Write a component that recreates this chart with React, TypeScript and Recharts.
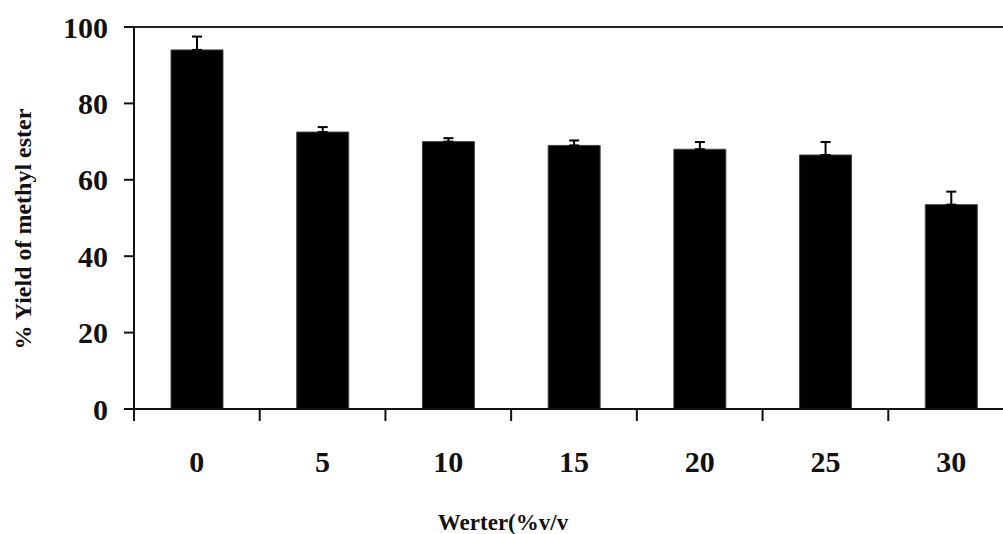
import React from 'react';
import { BarChart, Bar, XAxis, YAxis, ErrorBar, ReferenceLine } from 'recharts';

const categories = ['0', '5', '10', '15', '20', '25', '30'];
const yieldValues = [94, 72.5, 70, 69, 68, 66.5, 53.5];
const errorValues = [3.5, 1.3, 0.9, 1.3, 1.9, 3.4, 3.4];
const yTicks = [0, 20, 40, 60, 80, 100];

const data = categories.map((c, i) => ({
  water: c,
  value: yieldValues[i],
  err: [0, errorValues[i]],
}));

const FONT = '"Liberation Serif", "Times New Roman", serif';

const CategoryTick = (props: any) => {
  const { x, y, payload, width, visibleTicksCount } = props;
  const half =
    payload && typeof payload.offset === 'number' && payload.offset > 0
      ? payload.offset
      : width / (visibleTicksCount || categories.length) / 2;
  const isLast = payload.index === categories.length - 1;
  return (
    <g>
      <line x1={x - half} x2={x - half} y1={y} y2={y + 12} stroke="#111" strokeWidth={2} />
      {isLast && <line x1={x + half} x2={x + half} y1={y} y2={y + 12} stroke="#111" strokeWidth={2} />}
      <text x={x} y={y + 63} textAnchor="middle" fontFamily={FONT} fontWeight="bold" fontSize={30} fill="#111">
        {payload.value}
      </text>
    </g>
  );
};

export default function App() {
  return (
    <div style={{ position: 'absolute', left: 0, top: 0, width: 1003, height: 534, overflow: 'hidden', background: '#fff' }}>
      <BarChart
        width={1020}
        height={534}
        data={data}
        margin={{ top: 27, right: 6, bottom: 0, left: 0 }}
        barCategoryGap="30%"
      >
        <XAxis
          dataKey="water"
          height={125}
          axisLine={{ stroke: '#111', strokeWidth: 2 }}
          tickLine={false}
          tickSize={0}
          tickMargin={0}
          interval={0}
          tick={<CategoryTick />}
          label={{
            content: () => (
              <text x={503} y={530} textAnchor="middle" fontFamily={FONT} fontWeight="bold" fontSize={23} fill="#111">
                Werter(%v/v
              </text>
            ),
          }}
        />
        <YAxis
          domain={[0, 100]}
          ticks={yTicks}
          width={134}
          tickSize={10}
          tickMargin={16}
          axisLine={{ stroke: '#111', strokeWidth: 2 }}
          tickLine={{ stroke: '#111', strokeWidth: 2 }}
          tick={{ fontFamily: FONT, fontWeight: 'bold', fontSize: 30, fill: '#111' }}
          label={{
            content: () => (
              <text
                x={23}
                y={229}
                transform="rotate(-90 23 229)"
                textAnchor="middle"
                dominantBaseline="central"
                fontFamily={FONT}
                fontWeight="bold"
                fontSize={24}
                fill="#111"
              >
                % Yield of methyl ester
              </text>
            ),
          }}
        />
        <ReferenceLine y={100} stroke="#222" strokeWidth={2} />
        <Bar dataKey="value" fill="#000" stroke="#444" strokeWidth={1} barSize={52} isAnimationActive={false}>
          <ErrorBar dataKey="err" direction="y" width={5} stroke="#000" strokeWidth={2} />
        </Bar>
      </BarChart>
    </div>
  );
}
